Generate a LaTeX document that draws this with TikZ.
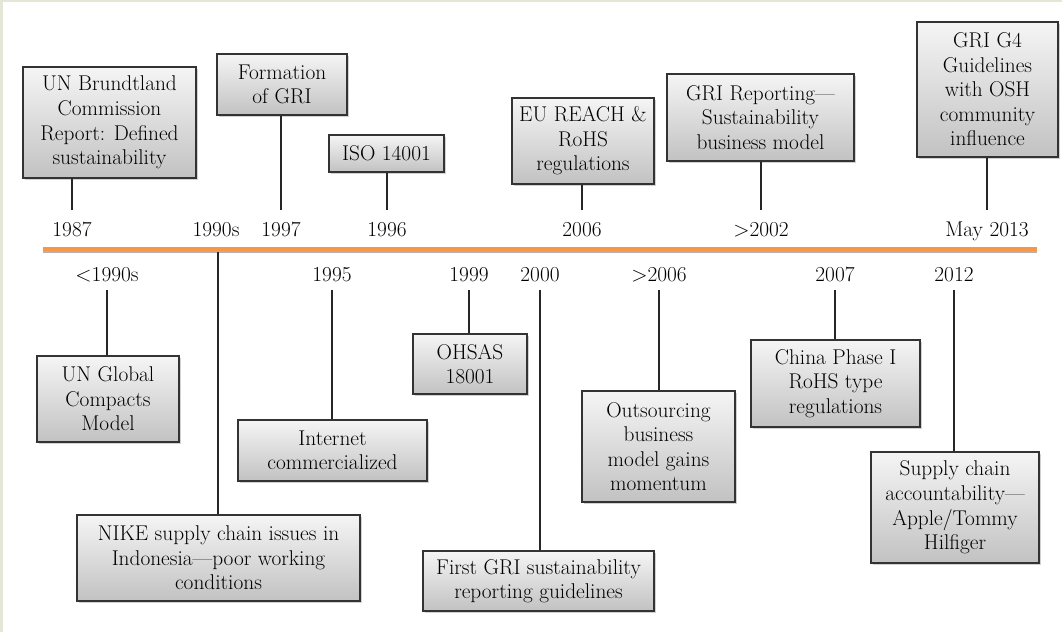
\documentclass[tikz,border=0pt]{standalone}
\usepackage{tikz}
\usetikzlibrary{positioning,calc,shadows}
\definecolor{axisorange}{RGB}{247,150,70}
\definecolor{framebeige}{RGB}{228,231,214}
\tikzset{evbox/.style={draw=black!80, line width=0.9pt, top color=black!4, bottom color=black!24,
	align=center, inner sep=2pt, font=\fontsize{16}{18.4}\selectfont,
	drop shadow={shadow xshift=1.2pt, shadow yshift=-1.8pt, fill=black!50, opacity=0.35}}}
\tikzset{yearlbl/.style={inner sep=0pt, anchor=base, text height=10pt, text depth=0pt, font=\fontsize{16}{18.4}\selectfont}}
\tikzset{toplbl/.style={yearlbl, outer ysep=9.5pt}}
\tikzset{botlbl/.style={yearlbl, outer ysep=6.75pt}}
\tikzset{tick/.style={draw=black!85, line width=0.9pt}}
\begin{document}
\begin{tikzpicture}[x=0.75pt, y=-0.75pt]
	\useasboundingbox (0,0) rectangle (1062,632);
	\fill[framebeige] (0,0) rectangle (1062,632);
	\fill[white] (3,2) rectangle (1062,632);
	%
	\coordinate (axisL) at (43,249);
	\coordinate (axisR) at (1037,249);
	\draw[black!30, line width=3pt] ([yshift=-1.2pt]axisL) -- ([yshift=-1.2pt]axisR);
	\draw[axisorange, line width=3pt] (axisL) -- (axisR);
	% events above the line
	\node[evbox, minimum width=129.75pt, minimum height=83.25pt] (t1) at (109.5,122.5) {UN Brundtland\\Commission\\Report: Defined\\sustainability};
	\node[evbox, minimum width=97.5pt, minimum height=45.75pt] (t2) at (282,84.5) {Formation\\of GRI};
	\node[evbox, minimum width=86.25pt, minimum height=27.75pt] (t3) at (386.5,153.5) {ISO 14001};
	\node[evbox, minimum width=106.5pt, minimum height=64.5pt] (t4) at (583,141) {EU REACH \&\\RoHS\\regulations};
	\node[evbox, minimum width=140.25pt, minimum height=65.25pt] (t5) at (760.5,117.5) {GRI Reporting—\\Sustainability\\business model};
	\node[evbox, minimum width=105.75pt, minimum height=101.25pt] (t6) at (987.5,89.5) {GRI G4\\Guidelines\\with OSH\\community\\influence};
	%
	\node[toplbl] (y1987) at (72,236) {1987};
	\node[toplbl] (y1990s) at (216,236) {1990s};
	\node[toplbl] (y1997) at (281,236) {1997};
	\node[toplbl] (y1996) at (387,236) {1996};
	\node[toplbl] (y2006) at (582,236) {2006};
	\node[toplbl] (y2002) at (761,236) {>2002};
	\node[toplbl] (y2013) at (987,236) {May 2013};
	%
	\draw[tick] (y1987.north) -- (y1987 |- t1.south);
	\draw[tick] (y1997.north) -- (y1997 |- t2.south);
	\draw[tick] (y1996.north) -- (y1996 |- t3.south);
	\draw[tick] (y2006.north) -- (y2006 |- t4.south);
	\draw[tick] (y2002.north) -- (y2002 |- t5.south);
	\draw[tick] (y2013.north) -- (y2013 |- t6.south);
	% events below the line
	\node[evbox, minimum width=106.5pt, minimum height=64.5pt] (b1) at (108,399) {UN Global\\Compacts\\Model};
	\node[evbox, minimum width=212.25pt, minimum height=64.5pt] (b2) at (218.5,558) {NIKE supply chain issues in\\Indonesia—poor working\\conditions};
	\node[evbox, minimum width=141.75pt, minimum height=45.75pt] (b3) at (332.5,450.5) {Internet\\commercialized};
	\node[evbox, minimum width=85.5pt, minimum height=45pt] (b4) at (470,364) {OHSAS\\18001};
	\node[evbox, minimum width=173.25pt, minimum height=45pt] (b5) at (538.5,581) {First GRI sustainability\\reporting guidelines};
	\node[evbox, minimum width=114.75pt, minimum height=83.25pt] (b6) at (658.5,446.5) {Outsourcing\\business\\model gains\\momentum};
	\node[evbox, minimum width=126.75pt, minimum height=65.25pt] (b7) at (835.5,383.5) {China Phase I\\RoHS type\\regulations};
	\node[evbox, minimum width=126pt, minimum height=83.25pt] (b8) at (955,507.5) {Supply chain\\accountability—\\Apple/Tommy\\Hilfiger};
	%
	\node[botlbl] (y1990) at (107,281) {<1990s};
	\node[botlbl] (y1995) at (332,281) {1995};
	\node[botlbl] (y1999) at (469,281) {1999};
	\node[botlbl] (y2000) at (540,281) {2000};
	\node[botlbl] (y2006b) at (659,281) {>2006};
	\node[botlbl] (y2007) at (835,281) {2007};
	\node[botlbl] (y2012) at (954,281) {2012};
	%
	\draw[tick] (y1990.south) -- (y1990 |- b1.north);
	\draw[tick] ([xshift=1.5pt]y1990s.south |- axisL) ++(0,-2.5pt) -- ([xshift=1.5pt]y1990s.south |- b2.north);
	\draw[tick] (y1995.south) -- (y1995 |- b3.north);
	\draw[tick] (y1999.south) -- (y1999 |- b4.north);
	\draw[tick] (y2000.south) -- (y2000 |- b5.north);
	\draw[tick] (y2006b.south) -- (y2006b |- b6.north);
	\draw[tick] (y2007.south) -- (y2007 |- b7.north);
	\draw[tick] (y2012.south) -- (y2012 |- b8.north);
\end{tikzpicture}
\end{document}
